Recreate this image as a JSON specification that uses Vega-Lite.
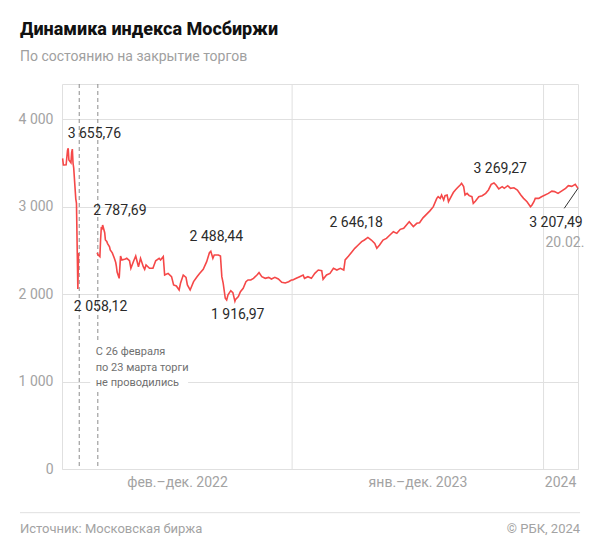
{
  "$schema": "https://vega.github.io/schema/vega-lite/v6.json",
  "width": 516,
  "height": 385,
  "autosize": "none",
  "padding": {"left": 62, "top": 84, "right": 22, "bottom": 86},
  "background": "white",
  "config": {
    "font": "Roboto",
    "view": {"stroke": "#e0e0e0", "strokeWidth": 1}
  },
  "title": {
    "text": "Динамика индекса Мосбиржи",
    "subtitle": "По состоянию на закрытие торгов",
    "anchor": "start",
    "frame": "group",
    "dx": -42,
    "offset": 20,
    "font": "Roboto",
    "fontSize": 18,
    "fontWeight": 800,
    "color": "#111111",
    "subtitleFont": "Roboto",
    "subtitleFontSize": 14,
    "subtitleColor": "#a0a0a0",
    "subtitlePadding": 11
  },
  "datasets": {
    "index": [
      {"d": "2022-02-01", "v": 3539, "s": 1},
      {"d": "2022-02-02", "v": 3540, "s": 1},
      {"d": "2022-02-03", "v": 3474, "s": 1},
      {"d": "2022-02-04", "v": 3474, "s": 1},
      {"d": "2022-02-07", "v": 3476, "s": 1},
      {"d": "2022-02-08", "v": 3560, "s": 1},
      {"d": "2022-02-09", "v": 3640, "s": 1},
      {"d": "2022-02-10", "v": 3665, "s": 1},
      {"d": "2022-02-11", "v": 3531, "s": 1},
      {"d": "2022-02-14", "v": 3500, "s": 1},
      {"d": "2022-02-15", "v": 3615, "s": 1},
      {"d": "2022-02-16", "v": 3655.76, "s": 1},
      {"d": "2022-02-17", "v": 3497, "s": 1},
      {"d": "2022-02-18", "v": 3440, "s": 1},
      {"d": "2022-02-21", "v": 3088, "s": 1},
      {"d": "2022-02-22", "v": 3040, "s": 1},
      {"d": "2022-02-24", "v": 2058.12, "s": 1},
      {"d": "2022-02-25", "v": 2470, "s": 1},
      {"d": "2022-03-24", "v": 2472, "s": 2},
      {"d": "2022-03-25", "v": 2450, "s": 2},
      {"d": "2022-03-28", "v": 2427, "s": 2},
      {"d": "2022-03-29", "v": 2620, "s": 2},
      {"d": "2022-03-30", "v": 2751, "s": 2},
      {"d": "2022-03-31", "v": 2745, "s": 2},
      {"d": "2022-04-01", "v": 2787.69, "s": 2},
      {"d": "2022-04-04", "v": 2700, "s": 2},
      {"d": "2022-04-05", "v": 2617, "s": 2},
      {"d": "2022-04-07", "v": 2600, "s": 2},
      {"d": "2022-04-08", "v": 2579, "s": 2},
      {"d": "2022-04-11", "v": 2540, "s": 2},
      {"d": "2022-04-12", "v": 2503, "s": 2},
      {"d": "2022-04-15", "v": 2470, "s": 2},
      {"d": "2022-04-18", "v": 2408, "s": 2},
      {"d": "2022-04-20", "v": 2360, "s": 2},
      {"d": "2022-04-21", "v": 2312, "s": 2},
      {"d": "2022-04-22", "v": 2250, "s": 2},
      {"d": "2022-04-25", "v": 2179, "s": 2},
      {"d": "2022-04-27", "v": 2434, "s": 2},
      {"d": "2022-04-29", "v": 2389, "s": 2},
      {"d": "2022-05-04", "v": 2400, "s": 2},
      {"d": "2022-05-06", "v": 2408, "s": 2},
      {"d": "2022-05-10", "v": 2380, "s": 2},
      {"d": "2022-05-12", "v": 2294, "s": 2},
      {"d": "2022-05-16", "v": 2377, "s": 2},
      {"d": "2022-05-19", "v": 2434, "s": 2},
      {"d": "2022-05-23", "v": 2312, "s": 2},
      {"d": "2022-05-26", "v": 2408, "s": 2},
      {"d": "2022-05-30", "v": 2312, "s": 2},
      {"d": "2022-06-01", "v": 2282, "s": 2},
      {"d": "2022-06-03", "v": 2332, "s": 2},
      {"d": "2022-06-08", "v": 2294, "s": 2},
      {"d": "2022-06-13", "v": 2294, "s": 2},
      {"d": "2022-06-17", "v": 2380, "s": 2},
      {"d": "2022-06-22", "v": 2408, "s": 2},
      {"d": "2022-06-24", "v": 2389, "s": 2},
      {"d": "2022-06-28", "v": 2427, "s": 2},
      {"d": "2022-06-30", "v": 2217, "s": 2},
      {"d": "2022-07-05", "v": 2236, "s": 2},
      {"d": "2022-07-10", "v": 2198, "s": 2},
      {"d": "2022-07-13", "v": 2103, "s": 2},
      {"d": "2022-07-17", "v": 2092, "s": 2},
      {"d": "2022-07-21", "v": 2046, "s": 2},
      {"d": "2022-07-23", "v": 2122, "s": 2},
      {"d": "2022-07-27", "v": 2217, "s": 2},
      {"d": "2022-07-31", "v": 2190, "s": 2},
      {"d": "2022-08-02", "v": 2103, "s": 2},
      {"d": "2022-08-06", "v": 2046, "s": 2},
      {"d": "2022-08-11", "v": 2141, "s": 2},
      {"d": "2022-08-16", "v": 2198, "s": 2},
      {"d": "2022-08-20", "v": 2236, "s": 2},
      {"d": "2022-08-25", "v": 2282, "s": 2},
      {"d": "2022-08-30", "v": 2370, "s": 2},
      {"d": "2022-09-03", "v": 2472, "s": 2},
      {"d": "2022-09-05", "v": 2488.44, "s": 2},
      {"d": "2022-09-08", "v": 2408, "s": 2},
      {"d": "2022-09-10", "v": 2446, "s": 2},
      {"d": "2022-09-16", "v": 2446, "s": 2},
      {"d": "2022-09-19", "v": 2434, "s": 2},
      {"d": "2022-09-21", "v": 2198, "s": 2},
      {"d": "2022-09-23", "v": 2122, "s": 2},
      {"d": "2022-09-26", "v": 1951, "s": 2},
      {"d": "2022-09-28", "v": 1932, "s": 2},
      {"d": "2022-09-30", "v": 1990, "s": 2},
      {"d": "2022-10-04", "v": 2038, "s": 2},
      {"d": "2022-10-07", "v": 2015, "s": 2},
      {"d": "2022-10-10", "v": 1916.97, "s": 2},
      {"d": "2022-10-11", "v": 1939, "s": 2},
      {"d": "2022-10-15", "v": 1970, "s": 2},
      {"d": "2022-10-18", "v": 2027, "s": 2},
      {"d": "2022-10-22", "v": 2065, "s": 2},
      {"d": "2022-10-26", "v": 2141, "s": 2},
      {"d": "2022-10-29", "v": 2160, "s": 2},
      {"d": "2022-11-02", "v": 2160, "s": 2},
      {"d": "2022-11-06", "v": 2179, "s": 2},
      {"d": "2022-11-11", "v": 2217, "s": 2},
      {"d": "2022-11-14", "v": 2244, "s": 2},
      {"d": "2022-11-18", "v": 2198, "s": 2},
      {"d": "2022-11-23", "v": 2179, "s": 2},
      {"d": "2022-11-28", "v": 2190, "s": 2},
      {"d": "2022-12-02", "v": 2171, "s": 2},
      {"d": "2022-12-07", "v": 2190, "s": 2},
      {"d": "2022-12-12", "v": 2171, "s": 2},
      {"d": "2022-12-17", "v": 2133, "s": 2},
      {"d": "2022-12-22", "v": 2126, "s": 2},
      {"d": "2022-12-27", "v": 2141, "s": 2},
      {"d": "2022-12-31", "v": 2160, "s": 2},
      {"d": "2023-01-02", "v": 2160, "s": 2},
      {"d": "2023-01-07", "v": 2179, "s": 2},
      {"d": "2023-01-12", "v": 2198, "s": 2},
      {"d": "2023-01-17", "v": 2217, "s": 2},
      {"d": "2023-01-19", "v": 2179, "s": 2},
      {"d": "2023-01-24", "v": 2198, "s": 2},
      {"d": "2023-01-29", "v": 2179, "s": 2},
      {"d": "2023-02-03", "v": 2236, "s": 2},
      {"d": "2023-02-08", "v": 2274, "s": 2},
      {"d": "2023-02-13", "v": 2266, "s": 2},
      {"d": "2023-02-15", "v": 2168, "s": 2},
      {"d": "2023-02-20", "v": 2217, "s": 2},
      {"d": "2023-02-25", "v": 2236, "s": 2},
      {"d": "2023-03-02", "v": 2293, "s": 2},
      {"d": "2023-03-07", "v": 2274, "s": 2},
      {"d": "2023-03-12", "v": 2293, "s": 2},
      {"d": "2023-03-17", "v": 2274, "s": 2},
      {"d": "2023-03-19", "v": 2389, "s": 2},
      {"d": "2023-03-24", "v": 2434, "s": 2},
      {"d": "2023-03-29", "v": 2484, "s": 2},
      {"d": "2023-04-02", "v": 2522, "s": 2},
      {"d": "2023-04-07", "v": 2560, "s": 2},
      {"d": "2023-04-12", "v": 2598, "s": 2},
      {"d": "2023-04-16", "v": 2617, "s": 2},
      {"d": "2023-04-21", "v": 2646.18, "s": 2},
      {"d": "2023-04-26", "v": 2617, "s": 2},
      {"d": "2023-05-01", "v": 2579, "s": 2},
      {"d": "2023-05-04", "v": 2522, "s": 2},
      {"d": "2023-05-08", "v": 2560, "s": 2},
      {"d": "2023-05-13", "v": 2617, "s": 2},
      {"d": "2023-05-18", "v": 2636, "s": 2},
      {"d": "2023-05-23", "v": 2674, "s": 2},
      {"d": "2023-05-28", "v": 2712, "s": 2},
      {"d": "2023-06-02", "v": 2693, "s": 2},
      {"d": "2023-06-07", "v": 2739, "s": 2},
      {"d": "2023-06-12", "v": 2751, "s": 2},
      {"d": "2023-06-16", "v": 2789, "s": 2},
      {"d": "2023-06-20", "v": 2827, "s": 2},
      {"d": "2023-06-26", "v": 2770, "s": 2},
      {"d": "2023-07-01", "v": 2808, "s": 2},
      {"d": "2023-07-05", "v": 2815, "s": 2},
      {"d": "2023-07-10", "v": 2870, "s": 2},
      {"d": "2023-07-15", "v": 2910, "s": 2},
      {"d": "2023-07-20", "v": 2950, "s": 2},
      {"d": "2023-07-25", "v": 2998, "s": 2},
      {"d": "2023-07-30", "v": 3093, "s": 2},
      {"d": "2023-08-01", "v": 3112, "s": 2},
      {"d": "2023-08-04", "v": 3093, "s": 2},
      {"d": "2023-08-06", "v": 3131, "s": 2},
      {"d": "2023-08-09", "v": 3074, "s": 2},
      {"d": "2023-08-11", "v": 3124, "s": 2},
      {"d": "2023-08-14", "v": 3131, "s": 2},
      {"d": "2023-08-16", "v": 3055, "s": 2},
      {"d": "2023-08-21", "v": 3131, "s": 2},
      {"d": "2023-08-23", "v": 3160, "s": 2},
      {"d": "2023-08-26", "v": 3189, "s": 2},
      {"d": "2023-08-29", "v": 3214, "s": 2},
      {"d": "2023-09-02", "v": 3246, "s": 2},
      {"d": "2023-09-04", "v": 3265, "s": 2},
      {"d": "2023-09-07", "v": 3227, "s": 2},
      {"d": "2023-09-09", "v": 3131, "s": 2},
      {"d": "2023-09-12", "v": 3150, "s": 2},
      {"d": "2023-09-15", "v": 3124, "s": 2},
      {"d": "2023-09-19", "v": 3112, "s": 2},
      {"d": "2023-09-21", "v": 3036, "s": 2},
      {"d": "2023-09-24", "v": 3060, "s": 2},
      {"d": "2023-09-29", "v": 3112, "s": 2},
      {"d": "2023-10-04", "v": 3124, "s": 2},
      {"d": "2023-10-09", "v": 3150, "s": 2},
      {"d": "2023-10-13", "v": 3189, "s": 2},
      {"d": "2023-10-17", "v": 3253, "s": 2},
      {"d": "2023-10-21", "v": 3269.27, "s": 2},
      {"d": "2023-10-24", "v": 3246, "s": 2},
      {"d": "2023-10-28", "v": 3200, "s": 2},
      {"d": "2023-11-02", "v": 3227, "s": 2},
      {"d": "2023-11-05", "v": 3208, "s": 2},
      {"d": "2023-11-10", "v": 3238, "s": 2},
      {"d": "2023-11-14", "v": 3208, "s": 2},
      {"d": "2023-11-19", "v": 3214, "s": 2},
      {"d": "2023-11-24", "v": 3189, "s": 2},
      {"d": "2023-11-29", "v": 3131, "s": 2},
      {"d": "2023-12-03", "v": 3093, "s": 2},
      {"d": "2023-12-08", "v": 3055, "s": 2},
      {"d": "2023-12-13", "v": 2998, "s": 2},
      {"d": "2023-12-15", "v": 3015, "s": 2},
      {"d": "2023-12-18", "v": 3055, "s": 2},
      {"d": "2023-12-20", "v": 3093, "s": 2},
      {"d": "2023-12-25", "v": 3093, "s": 2},
      {"d": "2023-12-29", "v": 3112, "s": 2},
      {"d": "2024-01-08", "v": 3150, "s": 2},
      {"d": "2024-01-13", "v": 3176, "s": 2},
      {"d": "2024-01-17", "v": 3170, "s": 2},
      {"d": "2024-01-22", "v": 3150, "s": 2},
      {"d": "2024-01-27", "v": 3176, "s": 2},
      {"d": "2024-02-02", "v": 3208, "s": 2},
      {"d": "2024-02-06", "v": 3238, "s": 2},
      {"d": "2024-02-11", "v": 3230, "s": 2},
      {"d": "2024-02-16", "v": 3253, "s": 2},
      {"d": "2024-02-20", "v": 3207.49, "s": 2}
    ],
    "labels": [
      {"d": "2022-03-20", "v": 3829, "t": "3 655,76"},
      {"d": "2022-04-26", "v": 2949, "t": "2 787,69"},
      {"d": "2022-03-29", "v": 1851, "t": "2 058,12"},
      {"d": "2022-09-13", "v": 2651, "t": "2 488,44"},
      {"d": "2022-10-14", "v": 1760, "t": "1 916,97"},
      {"d": "2023-04-04", "v": 2811, "t": "2 646,18"},
      {"d": "2023-10-30", "v": 3429, "t": "3 269,27"},
      {"d": "2024-01-19", "v": 2811, "t": "3 207,49"}
    ],
    "dateLabel": [{"d": "2024-02-01", "v": 2583, "t": "20.02."}],
    "years": [{"d": "2023-01-01"}, {"d": "2024-01-01"}],
    "pause": [{"d": "2022-02-26"}, {"d": "2022-03-25"}],
    "note": [{"d": "2022-03-22", "v": 1337, "t": "С 26 февраля\nпо 23 марта торги\nне проводились"}]
  },
  "layer": [
    {
      "data": {"name": "years"},
      "mark": {"type": "rule", "color": "#e0e0e0", "strokeWidth": 1},
      "encoding": {
        "x": {"field": "d", "type": "temporal", "scale": {"type": "utc", "domain": [1643673600000, 1708387200000]}}
      }
    },
    {
      "data": {"name": "pause"},
      "mark": {"type": "rule", "color": "#8c8c8c", "strokeWidth": 1, "strokeDash": [4, 3]},
      "encoding": {
        "x": {"field": "d", "type": "temporal"}
      }
    },
    {
      "data": {"values": [{"k": 1}]},
      "mark": {"type": "rect", "fill": "white"},
      "encoding": {
        "x": {"datum": 1647216000000, "type": "temporal"},
        "x2": {"datum": 1659484800000},
        "y": {"datum": 880, "type": "quantitative"},
        "y2": {"datum": 1440}
      }
    },
    {
      "data": {"name": "index"},
      "mark": {"type": "line", "color": "#f54848", "strokeWidth": 1.6, "interpolate": "linear"},
      "encoding": {
        "x": {
          "field": "d",
          "type": "temporal",
          "scale": {"type": "utc", "domain": [1643673600000, 1708387200000]},
          "axis": {
            "title": null,
            "grid": false,
            "ticks": false,
            "domain": false,
            "values": [1658102400000, 1688256000000, 1706140800000],
            "labelExpr": "utcyear(datum.value) == 2022 ? 'фев.–дек. 2022' : (utcyear(datum.value) == 2023 ? 'янв.–дек. 2023' : '2024')",
            "labelFlush": false,
            "labelOverlap": false,
            "labelPadding": 6,
            "labelFontSize": 14,
            "labelColor": "#a3a3a3",
            "labelFont": "Roboto"
          }
        },
        "y": {
          "field": "v",
          "type": "quantitative",
          "scale": {"domain": [0, 4400], "nice": false, "zero": true},
          "axis": {
            "title": null,
            "values": [0, 1000, 2000, 3000, 4000],
            "grid": true,
            "gridColor": "#e0e0e0",
            "domain": false,
            "ticks": false,
            "labelPadding": 9,
            "labelFontSize": 14,
            "labelColor": "#a3a3a3",
            "labelFont": "Roboto",
            "labelExpr": "replace(format(datum.value, ','), ',', ' ')"
          }
        },
        "detail": {"field": "s", "type": "nominal"}
      }
    },
    {
      "data": {"name": "labels"},
      "mark": {"type": "text", "fontSize": 14, "color": "#2a2a2a", "align": "center", "baseline": "middle", "font": "Roboto"},
      "encoding": {
        "x": {"field": "d", "type": "temporal"},
        "y": {"field": "v", "type": "quantitative"},
        "text": {"field": "t"}
      }
    },
    {
      "data": {"name": "dateLabel"},
      "mark": {"type": "text", "fontSize": 14, "color": "#a3a3a3", "align": "center", "baseline": "middle", "font": "Roboto"},
      "encoding": {
        "x": {"field": "d", "type": "temporal"},
        "y": {"field": "v", "type": "quantitative"},
        "text": {"field": "t"}
      }
    },
    {
      "data": {"name": "note"},
      "mark": {"type": "text", "fontSize": 11, "color": "#707070", "align": "left", "baseline": "middle", "lineBreak": "\n", "lineHeight": 15.5, "font": "Roboto"},
      "encoding": {
        "x": {"field": "d", "type": "temporal"},
        "y": {"field": "v", "type": "quantitative"},
        "text": {"field": "t"}
      }
    },
    {
      "data": {"values": [{"k": 1}]},
      "mark": {"type": "rule", "color": "#333333", "strokeWidth": 1},
      "encoding": {
        "x": {"datum": 1708387200000, "type": "temporal"},
        "x2": {"datum": 1706659200000},
        "y": {"datum": 3208, "type": "quantitative"},
        "y2": {"datum": 2979}
      }
    },
    {
      "data": {"values": [{"k": 1}]},
      "mark": {"type": "rule", "color": "#e0e0e0", "strokeWidth": 1},
      "encoding": {
        "x": {"datum": 1638403200000, "type": "temporal"},
        "x2": {"datum": 1708646400000},
        "y": {"datum": -499, "type": "quantitative"}
      }
    },
    {
      "data": {"values": [{"t": "Источник: Московская биржа"}]},
      "mark": {"type": "text", "fontSize": 13, "color": "#a3a3a3", "align": "left", "baseline": "middle", "font": "Roboto"},
      "encoding": {
        "x": {"datum": 1638403200000, "type": "temporal"},
        "y": {"datum": -690, "type": "quantitative"},
        "text": {"field": "t"}
      }
    },
    {
      "data": {"values": [{"t": "© РБК, 2024"}]},
      "mark": {"type": "text", "fontSize": 13, "color": "#a3a3a3", "align": "right", "baseline": "middle", "font": "Roboto"},
      "encoding": {
        "x": {"datum": 1708646400000, "type": "temporal"},
        "y": {"datum": -690, "type": "quantitative"},
        "text": {"field": "t"}
      }
    }
  ]
}
